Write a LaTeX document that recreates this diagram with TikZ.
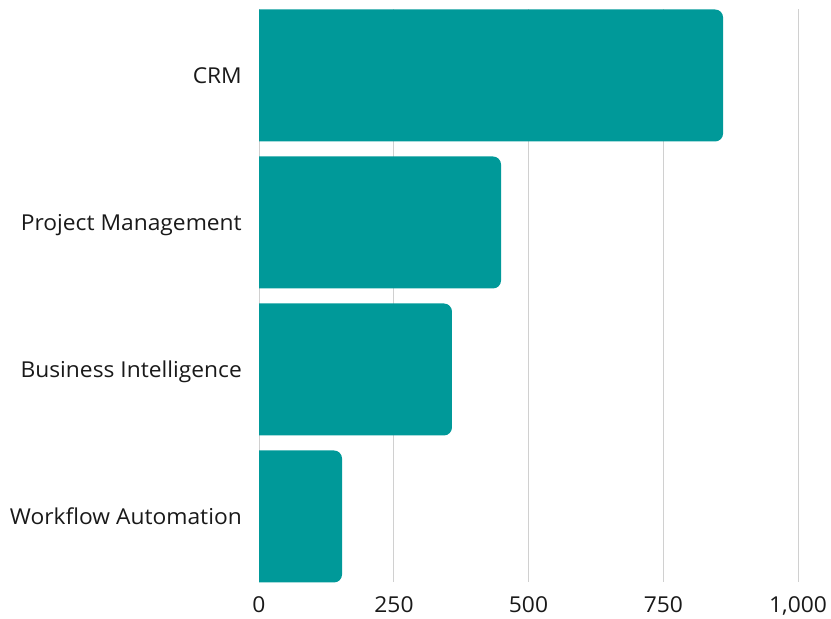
\documentclass[tikz,border=0pt]{standalone}
\usepackage{fontspec}
\setmainfont[FakeStretch=1.04]{Open Sans}
\usepackage{xcolor}
\definecolor{barteal}{HTML}{009999}
\definecolor{gridgray}{HTML}{D0D0D0}

\begin{document}
\begin{tikzpicture}[x=1bp,y=1bp,
        lbl/.style={font=\fontsize{22}{26}\selectfont,text=black!90,inner sep=0pt}]
        \useasboundingbox (0,0) rectangle (831,619);
        % Grid lines
        \foreach \v in {0,250,500,750,1000} {
            \coordinate (g\v) at ({259+\v*0.539},609.5);
            \coordinate (b\v) at ({259+\v*0.539},36.5);
            \draw[gridgray,line width=1bp] (g\v) -- (b\v);
        }
        % Bars
        \foreach \val/\yt in {861/609.5,449/462.5,358/315.5,154/168.5} {
            \fill[barteal] (259,\yt-132) -- (259,\yt) -- ({259+\val*0.539-8},\yt)
                arc[start angle=90,end angle=0,radius=8]
                -- ({259+\val*0.539},\yt-124)
                arc[start angle=0,end angle=-90,radius=8] -- cycle;
        }
        % Category labels
        \node[lbl,anchor=base east] (crm) at (242,535.7) {CRM};
        \node[lbl,anchor=base east] (pm) at (242,388.7) {Project Management};
        \node[lbl,anchor=base east] (bi) at (242,241.7) {Business Intelligence};
        \node[lbl,anchor=base east] (wa) at (242,94.7) {Workflow Automation};
        % Axis labels
        \node[lbl,anchor=base] (t0) at (259,6) {0};
        \node[lbl,anchor=base] (t250) at (394,6) {250};
        \node[lbl,anchor=base] (t500) at (528.5,6) {500};
        \node[lbl,anchor=base] (t750) at (663.3,6) {750};
        \node[lbl,anchor=base] (t1000) at (798,6) {1,000};
\end{tikzpicture}
\end{document}
